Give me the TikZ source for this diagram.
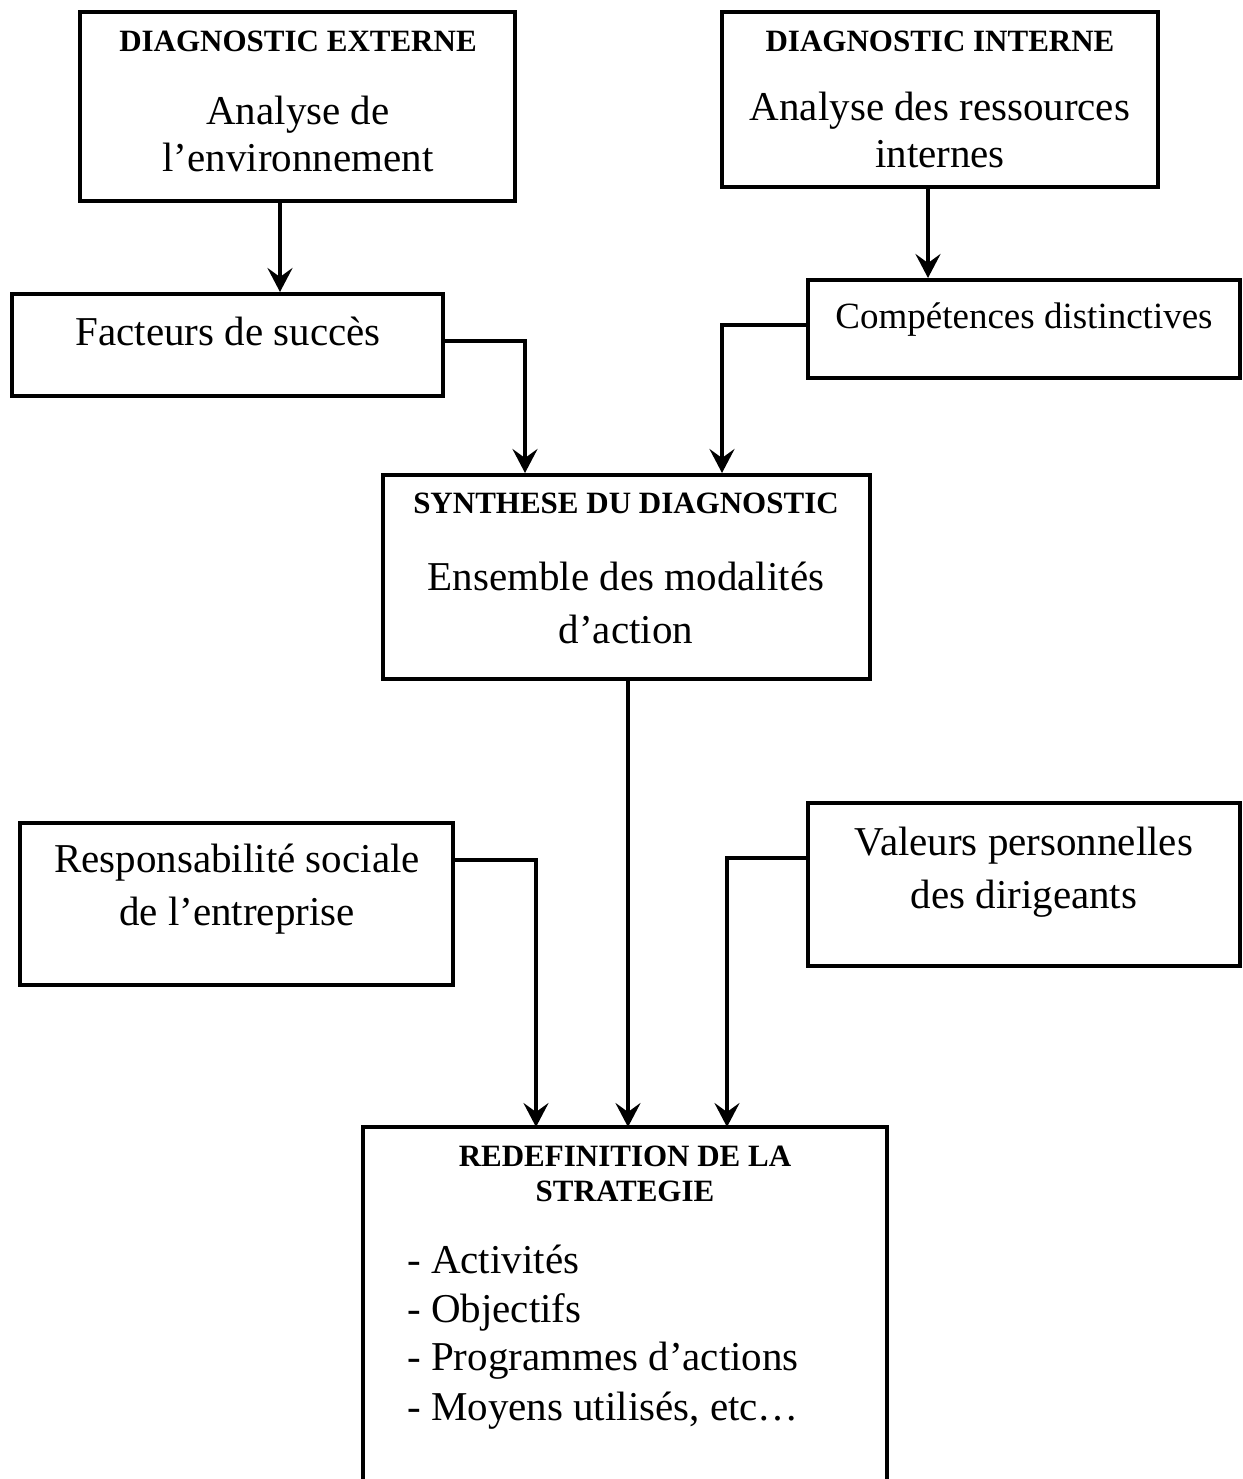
\documentclass[tikz,border=0pt]{standalone}
\usepackage{fontspec}
\setmainfont{Liberation Serif}
\usetikzlibrary{arrows.meta}
\begin{document}
\begin{tikzpicture}[x=1pt,y=-1pt,
  box/.style={draw, line width=4pt, inner sep=0pt, rectangle},
  hdr/.style={font=\bfseries\fontsize{31}{35}\selectfont, anchor=base, inner sep=0pt},
  txt/.style={font=\fontsize{41}{47}\selectfont, anchor=base, inner sep=0pt},
  itm/.style={font=\fontsize{41}{47}\selectfont, anchor=base west, inner sep=0pt},
  arr/.style={line width=3.5pt, -{Stealth[length=24pt,width=25pt,inset=9pt]}}]
\useasboundingbox (0,0) rectangle (1242,1479);

% boxes
\node[box, minimum width=435pt, minimum height=189pt] (b1) at (297.5,106.5) {};
\node[box, minimum width=436pt, minimum height=175pt] (b2) at (940,99.5) {};
\node[box, minimum width=431pt, minimum height=102pt] (fact) at (227.5,345) {};
\node[box, minimum width=432pt, minimum height=98pt] (comp) at (1024,329) {};
\node[box, minimum width=487pt, minimum height=204pt] (syn) at (626.5,577) {};
\node[box, minimum width=433pt, minimum height=162pt] (resp) at (236.5,904) {};
\node[box, minimum width=432pt, minimum height=163pt] (val) at (1024,884.5) {};
\coordinate (redNW) at (363,1127);
\coordinate (redNE) at (887,1127);
\draw[line width=4pt] (363,1485) -- (redNW) -- (redNE) -- (887,1485);

% texts
\node[hdr] (b1h) at (298,52) {DIAGNOSTIC EXTERNE};
\node[txt] (b1a) at (298,125) {Analyse de};
\node[txt] (b1b) at (298,172) {l’environnement};

\node[hdr] (b2h) at (940,52) {DIAGNOSTIC INTERNE};
\node[txt] (b2a) at (940,121) {Analyse des ressources};
\node[txt] (b2b) at (940,168) {internes};

\node[txt] (factt) at (228,345) {Facteurs de succès};
\node[txt, font=\fontsize{37}{43}\selectfont] (compt) at (1024,328) {Compétences distinctives};

\node[hdr] (synh) at (626,513) {SYNTHESE DU DIAGNOSTIC};
\node[txt] (syna) at (626,590) {Ensemble des modalités};
\node[txt] (synb) at (626,643) {d’action};

\node[txt] (respa) at (237,872) {Responsabilité sociale};
\node[txt] (respb) at (237,925) {de l’entreprise};

\node[txt] (vala) at (1024,855) {Valeurs personnelles};
\node[txt] (valb) at (1024,908) {des dirigeants};

\node[hdr] (redh1) at (625,1166) {REDEFINITION DE LA};
\node[hdr] (redh2) at (625,1201) {STRATEGIE};
\node[itm] (i1) at (407,1273) {- Activités};
\node[itm] (i2) at (407,1322) {- Objectifs};
\node[itm] (i3) at (407,1370) {- Programmes d’actions};
\node[itm] (i4) at (407,1420) {- Moyens utilisés, etc…};

% connectors
\draw[arr] (b1.south -| 280,0) -- (fact.north -| 280,0);
\draw[arr] (b2.south -| 928,0) -- (comp.north -| 928,0);
\draw[arr] (fact.east |- 0,341) -| (syn.north -| 525,0);
\draw[arr] (comp.west |- 0,325) -| (syn.north -| 722,0);
\draw[arr] (syn.south -| 628,0) -- (redNW -| 628,0);
\draw[arr] (resp.east |- 0,860) -| (redNW -| 536,0);
\draw[arr] (val.west |- 0,858) -| (redNW -| 727,0);
\end{tikzpicture}
\end{document}
